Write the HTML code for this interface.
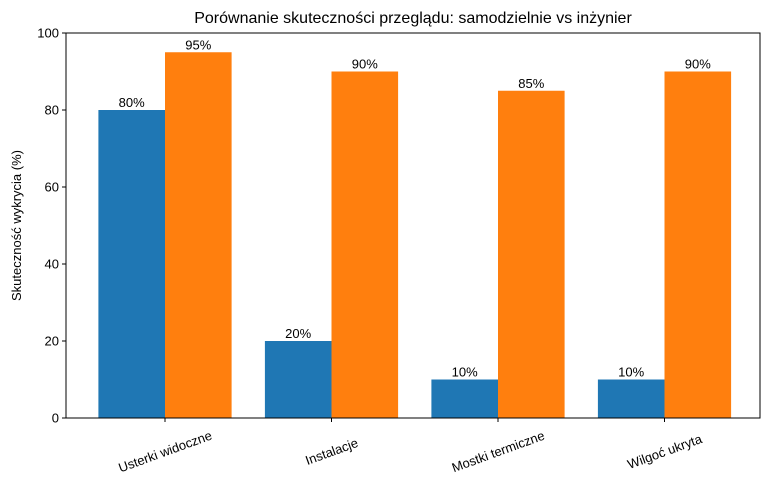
<!DOCTYPE html>
<html><head><meta charset="utf-8"><style>
body{margin:0;background:#fff;}
text{font-family:"Liberation Sans","DejaVu Sans",sans-serif;}
</style></head><body>
<svg id="chart" width="773" height="491" viewBox="0 0 773 491" xmlns="http://www.w3.org/2000/svg"></svg>
<script>
const categories = ["Usterki widoczne","Instalacje","Mostki termiczne","Wilgoć ukryta"];
const selfValues = [80,20,10,10];
const engineerValues = [95,90,85,90];
const yTicks = [0,20,40,60,80,100];

const svg = document.getElementById('chart');
const NS = 'http://www.w3.org/2000/svg';
const plotLeft=66, plotRight=760, plotTop=33, plotBottom=418;
const y = v => plotBottom - (v/100)*(plotBottom-plotTop);
const step = 166.5, first = 165, bw = 66.6;
const xc = i => first + i*step;
function el(tag, attrs, text){
  const e=document.createElementNS(NS,tag);
  for(const k in attrs) e.setAttribute(k,attrs[k]);
  if(text!==undefined) e.textContent=text;
  svg.appendChild(e); return e;
}
const title = el('text',{x:(plotLeft+plotRight)/2,y:23,'text-anchor':'middle','font-size':16,fill:'#000'},'Porównanie skuteczności przeglądu: samodzielnie vs inżynier');



categories.forEach((c,i)=>{
  const b1 = el('rect',{x:xc(i)-bw,y:y(selfValues[i]),width:bw,height:plotBottom-y(selfValues[i]),fill:'#1f77b4'});
  
  
  const b2 = el('rect',{x:xc(i),y:y(engineerValues[i]),width:bw,height:plotBottom-y(engineerValues[i]),fill:'#ff7f0e'});
  
  
  const l1 = el('text',{x:xc(i)-bw/2,y:y(selfValues[i])-3,'text-anchor':'middle','font-size':13},selfValues[i]+'%');
  
  
  const l2 = el('text',{x:xc(i)+bw/2,y:y(engineerValues[i])-3,'text-anchor':'middle','font-size':13},engineerValues[i]+'%');
  
  
  el('line',{x1:xc(i),x2:xc(i),y1:plotBottom,y2:plotBottom+4,stroke:'#000','stroke-width':1});
  const t = el('text',{x:0,y:5,'text-anchor':'middle','font-size':13,transform:`translate(${xc(i)},${plotBottom+33}) rotate(-20)`},c);
  
  
});

yTicks.forEach(v=>{
  el('line',{x1:plotLeft-4,x2:plotLeft,y1:y(v),y2:y(v),stroke:'#000','stroke-width':1});
  const t = el('text',{x:plotLeft-7,y:y(v)+4.5,'text-anchor':'end','font-size':13},v);
  
  
});

const frame = el('rect',{x:plotLeft,y:plotTop,width:plotRight-plotLeft,height:plotBottom-plotTop,fill:'none',stroke:'#000','stroke-width':1});



const yt = el('text',{x:0,y:0,'text-anchor':'middle','font-size':13,transform:`translate(21,${(plotTop+plotBottom)/2}) rotate(-90)`},'Skuteczność wykrycia (%)');


</script>
</body></html>
